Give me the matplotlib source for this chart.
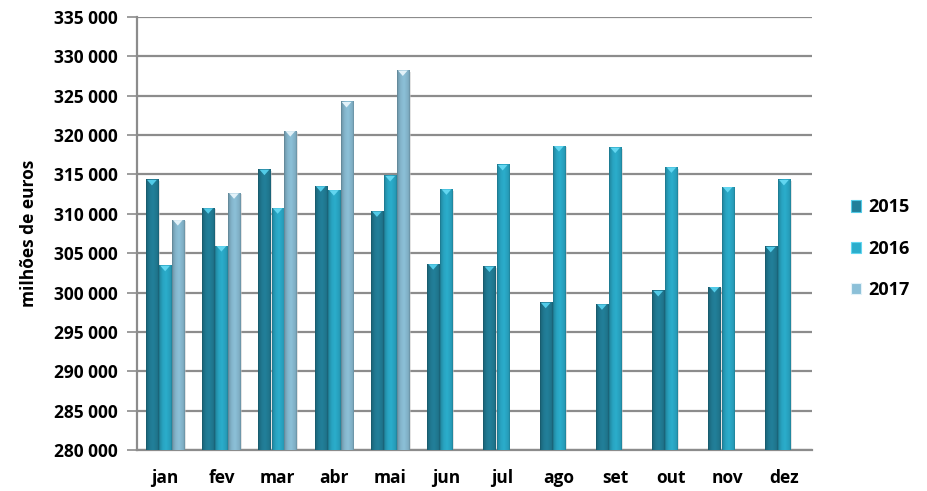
import numpy as np
import matplotlib
matplotlib.use("Agg")
from matplotlib import pyplot as plt
from matplotlib.patches import Patch, Polygon, Rectangle
from matplotlib.ticker import FuncFormatter, MultipleLocator
from matplotlib.colors import to_rgb

meses = ['jan', 'fev', 'mar', 'abr', 'mai', 'jun', 'jul', 'ago', 'set', 'out', 'nov', 'dez']
anos = ['2015', '2016', '2017']
v2015 = [314300, 310700, 315600, 313500, 310300, 303600, 303300, 298700, 298500, 300200, 300700, 305800]
v2016 = [303400, 305900, 310700, 313000, 314800, 313100, 316200, 318600, 318400, 315900, 313400, 314300]
v2017 = [309200, 312600, 320500, 324200, 328200]

plt.rcParams['font.family'] = ['Open Sans', 'DejaVu Sans']
plt.rcParams['font.weight'] = 'bold'

cores = ['#22809a', '#2badcc', '#8cc0d8']
topo = ['#52cbe8', '#62d6f0', '#e3f2f9']
desloc = [-0.235, 0.0, 0.225]
larg = 0.215


def degrade(cor):
    # coluna com bisel: bordas escuras, faixa clara perto da esquerda
    c = np.array(to_rgb(cor))
    xs = np.linspace(0, 1, 40)
    f = np.interp(xs, [0, 0.08, 0.3, 0.55, 0.9, 1.0], [0.66, 0.82, 0.95, 1.0, 0.9, 0.74])
    img = np.clip(c[None, :] * f[:, None], 0, 1)
    return img[None, :, :]


fig = plt.figure(figsize=(9.27, 4.91), dpi=100)
ax = fig.add_axes([0.1478, 0.0835, 0.7282, 0.882])

series = [v2015, v2016, v2017]
ymin = 280000
tri_h = 700
for s, vals in enumerate(series):
    img = degrade(cores[s])
    for i, v in enumerate(vals):
        x0 = i + desloc[s] - larg / 2
        x1 = x0 + larg
        ax.add_patch(Rectangle((x1, ymin), 0.03, v - ymin - 150, color='#c8c8c8',
                               alpha=0.5, lw=0, zorder=2.5))
        ax.imshow(img, extent=[x0, x1, ymin, v], aspect='auto', zorder=3,
                  interpolation='bilinear')
        ax.add_patch(Polygon([(x0 + 0.1 * larg, v), (x1 - 0.1 * larg, v),
                              (x0 + larg / 2, v - tri_h)],
                             closed=True, color=topo[s], lw=0, zorder=4))

ax.set_xlim(-0.5, 11.5)
ax.set_ylim(280000, 335000)
ax.set_aspect('auto')
ax.yaxis.set_major_locator(MultipleLocator(5000))
ax.yaxis.set_major_formatter(FuncFormatter(lambda y, p: f"{int(y):,}".replace(',', ' ')))
ax.set_xticks(range(12))
ax.set_xticklabels(meses)
ax.tick_params(axis='x', length=0, pad=14, labelsize=12.5)
ax.tick_params(axis='y', length=7, width=1.2, color='#8c8c8c', pad=7, labelsize=12.5)
ax.grid(axis='y', color='#8c8c8c', lw=1.6, zorder=1)
ax.set_axisbelow(True)
for lado in ['top', 'right']:
    ax.spines[lado].set_visible(False)
for lado in ['left', 'bottom']:
    ax.spines[lado].set_color('#8c8c8c')
    ax.spines[lado].set_linewidth(1.6)
ax.set_ylabel('milhões de euros', fontsize=12.5, fontweight='bold', labelpad=11)

handles = [Patch(facecolor=cores[s], edgecolor=topo[s], lw=0.8) for s in range(3)]
ax.legend(handles, anos, loc='center left', bbox_to_anchor=(1.033, 0.465), frameon=False,
          fontsize=13, handlelength=0.6, handleheight=0.6, handletextpad=0.4,
          labelspacing=1.3)

fig.savefig('out.png', dpi=100)
